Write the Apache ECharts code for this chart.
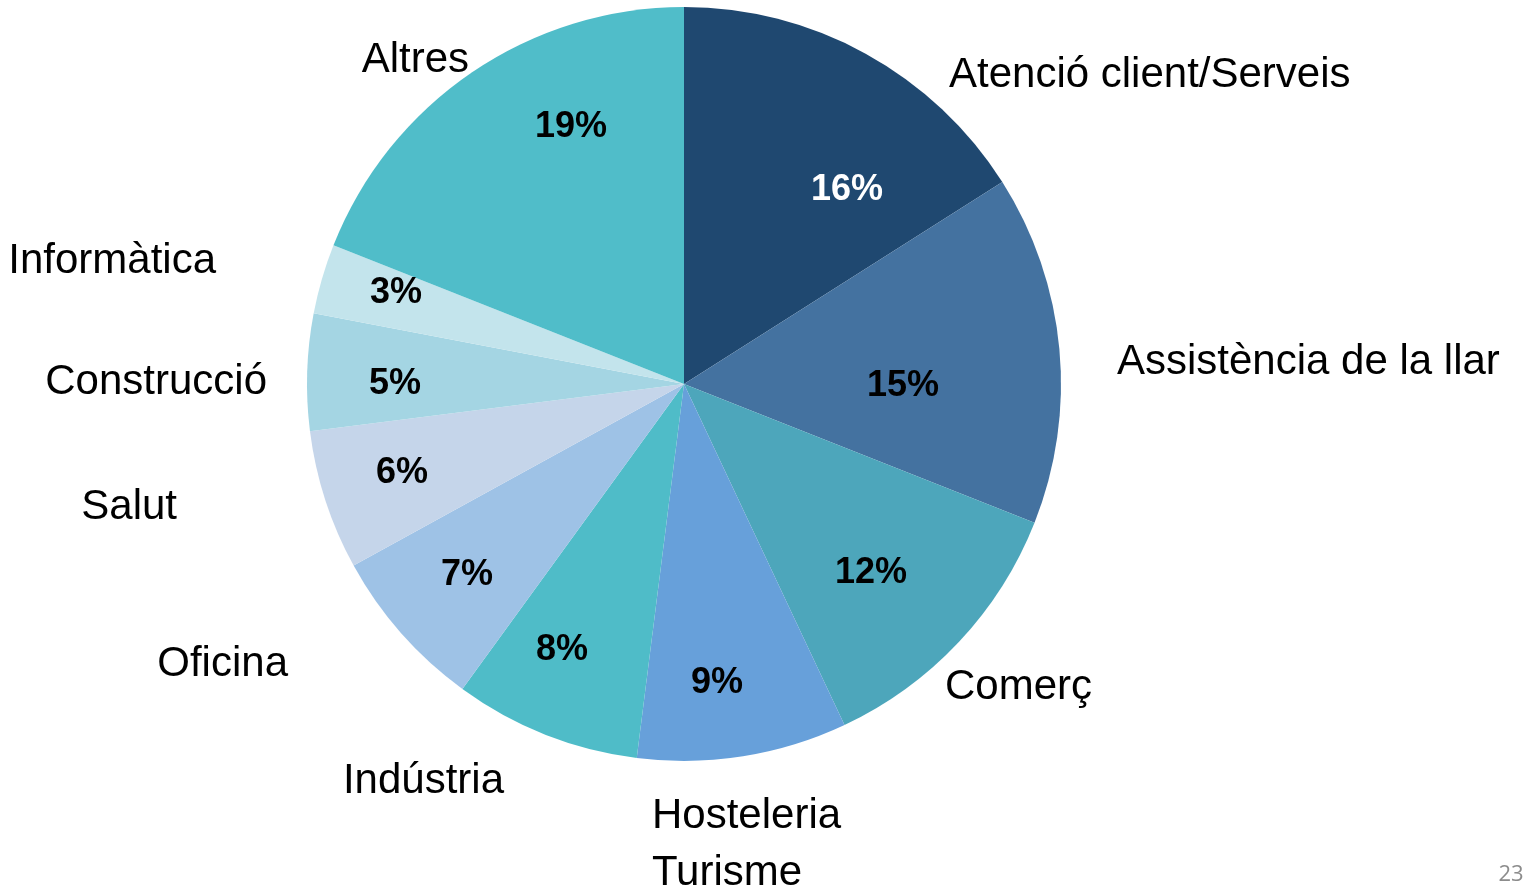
<!DOCTYPE html>
<html>
<head>
<meta charset="utf-8">
<script src="https://cdn.jsdelivr.net/npm/echarts@6/dist/echarts.min.js"></script>
<style>
  html, body { margin: 0; padding: 0; background: #fff; }
  #app { width: 1527px; height: 894px; }
</style>
</head>
<body>
<div id="app"></div>
<script>
// sectors, clockwise from 12 o'clock
var categories = ['Atenció client/Serveis', 'Assistència de la llar', 'Comerç', 'Hosteleria\nTurisme',
  'Indústria', 'Oficina', 'Salut', 'Construcció', 'Informàtica', 'Altres'];
var shares = [16, 15, 12, 9, 8, 7, 6, 5, 3, 19];
var sliceColors = ['#1f4870', '#4472a0', '#4da6bb', '#67a0da', '#4fbcc8',
  '#9ec2e6', '#c5d5ea', '#a4d5e3', '#c3e4ec', '#50bdc9'];
var pctColors = ['#fff', '#000', '#000', '#000', '#000', '#000', '#000', '#000', '#000', '#000'];

// where the label sits (placed like the original slide, not auto)
var nameAnchors = [[949, 75, 'left'], [1117, 362, 'left'], [945, 687, 'left'], [652, 845, 'left'],
  [504, 781, 'right'], [288, 664, 'right'], [177, 507, 'right'], [267, 382, 'right'],
  [216, 261, 'right'], [469, 60, 'right']];
var pctAnchors = [[847, 190], [903, 386], [871, 573], [717, 683], [562, 650],
  [467, 575], [402, 473], [395, 384], [396, 293], [571, 127]];

var chart = echarts.init(document.getElementById('app'), null, { renderer: 'canvas' });

var pieData = categories.map(function (name, i) {
  return { name: name, value: shares[i], itemStyle: { color: sliceColors[i] } };
});

var base = {
  type: 'pie',
  center: [684, 384],
  radius: [0, 377],
  startAngle: 90,
  clockwise: true,
  animation: false,
  silent: true,
  labelLine: { show: false },
  data: pieData
};

chart.setOption({
  backgroundColor: '#fff',
  graphic: [{
    type: 'text',
    x: 1511,
    y: 875,
    style: {
      text: '23', fill: '#8c8c8c', fontSize: 22, fontFamily: 'Open Sans',
      align: 'center', verticalAlign: 'middle'
    }
  }],
  series: [
    Object.assign({}, base, {
      itemStyle: { borderColor: '#fff', borderWidth: 0 },
      label: {
        show: true,
        position: 'outside',
        formatter: '{b}',
        color: '#000',
        fontSize: 42,
        lineHeight: 57,
        fontFamily: 'Liberation Sans, Arial, sans-serif'
      },
      labelLayout: function (p) {
        var a = nameAnchors[p.dataIndex];
        return { x: a[0], y: a[1], align: a[2], verticalAlign: 'middle' };
      }
    }),
    Object.assign({}, base, {
      itemStyle: { color: 'transparent' },
      data: categories.map(function (name, i) {
        return { name: name, value: shares[i], itemStyle: { color: 'rgba(0,0,0,0)' },
          label: { color: pctColors[i] } };
      }),
      label: {
        show: true,
        position: 'inside',
        formatter: '{c}%',
        fontSize: 36,
        fontWeight: 'bold',
        fontFamily: 'Liberation Sans, Arial, sans-serif'
      },
      labelLayout: function (p) {
        var a = pctAnchors[p.dataIndex];
        return { x: a[0], y: a[1], align: 'center', verticalAlign: 'middle' };
      }
    })
  ]
});

addEventListener('resize', function () { chart.resize(); });
</script>
</body>
</html>
